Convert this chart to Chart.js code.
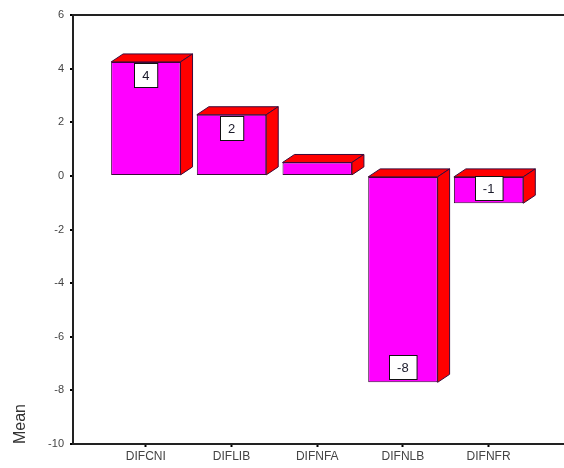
<!DOCTYPE html>
<html>
<head>
<meta charset="utf-8">
<script src="https://cdn.jsdelivr.net/npm/chart.js@4/dist/chart.umd.min.js"></script>
<style>
  html, body { margin: 0; padding: 0; background: #fff; }
</style>
</head>
<body>
<canvas id="c" width="564" height="468"></canvas>
<script>
// Mean difference per variable
const categories = ['DIFCNI', 'DIFLIB', 'DIFNFA', 'DIFNLB', 'DIFNFR'];
const meanValues = [4.25, 2.28, 0.5, -7.7, -1.02];
const yTicks = [6, 4, 2, 0, -2, -4, -6, -8, -10];

const FRONT = '#ff00ff';
const SIDE = '#ff0000';
const EDGE = '#3a0a3a';
const DEPTH_X = 12;
const DEPTH_Y = -8;
const FONT = '"Liberation Sans", Arial, sans-serif';

// Draws the extruded top and right faces behind each bar
const bar3d = {
  id: 'bar3d',
  beforeDatasetsDraw(chart) {
    const ctx = chart.ctx;
    chart.getDatasetMeta(0).data.forEach(bar => {
      const { x, y, base, width } = bar.getProps(['x', 'y', 'base', 'width'], true);
      const l = x - width / 2, r = x + width / 2;
      const top = Math.min(y, base), bot = Math.max(y, base);
      ctx.save();
      ctx.fillStyle = SIDE;
      ctx.strokeStyle = EDGE;
      ctx.lineWidth = 1;
      ctx.beginPath();
      ctx.moveTo(l, top);
      ctx.lineTo(l + DEPTH_X, top + DEPTH_Y);
      ctx.lineTo(r + DEPTH_X, top + DEPTH_Y);
      ctx.lineTo(r, top);
      ctx.closePath();
      ctx.fill(); ctx.stroke();
      ctx.beginPath();
      ctx.moveTo(r, top);
      ctx.lineTo(r + DEPTH_X, top + DEPTH_Y);
      ctx.lineTo(r + DEPTH_X, bot + DEPTH_Y);
      ctx.lineTo(r, bot);
      ctx.closePath();
      ctx.fill(); ctx.stroke();
      ctx.restore();
    });
  }
};

// Boxed value labels inside the bars
const valueBoxes = {
  id: 'valueBoxes',
  afterDatasetsDraw(chart) {
    const ctx = chart.ctx;
    const values = chart.data.datasets[0].data;
    chart.getDatasetMeta(0).data.forEach((bar, i) => {
      const v = values[i].y;
      const { x, y, base } = bar.getProps(['x', 'y', 'base'], true);
      const top = Math.min(y, base), bot = Math.max(y, base);
      const text = String(Math.round(v));
      const h = 24;
      if (bot - top < h) return;
      ctx.save();
      ctx.font = '13px ' + FONT;
      const w = Math.max(23, ctx.measureText(text).width + 16);
      const by = Math.round(v >= 0 ? top + 1 : bot - h - 3);
      const bx = Math.round(x - w / 2) + 0.5;
      ctx.fillStyle = '#fff';
      ctx.fillRect(bx, by, w, h);
      ctx.strokeStyle = '#111';
      ctx.lineWidth = 1;
      ctx.strokeRect(bx, by + 0.5, w, h);
      ctx.fillStyle = '#1a1a2a';
      ctx.textAlign = 'center';
      ctx.textBaseline = 'middle';
      ctx.fillText(text, x, by + h / 2 + 1);
      ctx.restore();
    });
  }
};

new Chart(document.getElementById('c'), {
  type: 'bar',
  data: {
    datasets: [{
      data: meanValues.map((v, i) => ({ x: i, y: v })),
      backgroundColor: FRONT,
      borderColor: EDGE,
      borderWidth: 1,
      borderSkipped: false,
      barPercentage: 0.9,
      categoryPercentage: 0.9
    }]
  },
  options: {
    responsive: false,
    animation: false,
    layout: { padding: { top: 15, right: 0, bottom: 0, left: 0 } },
    plugins: { legend: { display: false }, tooltip: { enabled: false } },
    scales: {
      x: {
        type: 'linear',
        offset: false,
        min: -0.85,
        max: 4.88,
        afterBuildTicks: s => { s.ticks = categories.map((_, i) => ({ value: i })); },
        afterFit: s => { s.height = 24; },
        grid: { offset: false, drawOnChartArea: false, tickColor: '#000', tickLength: 3, tickWidth: 2 },
        border: { color: '#222', width: 2 },
        ticks: {
          autoSkip: false, maxRotation: 0, padding: 2,
          color: '#444',
          font: { size: 12, family: FONT },
          callback: v => categories[v]
        }
      },
      y: {
        min: -10,
        max: 6,
        afterBuildTicks: s => { s.ticks = yTicks.map(v => ({ value: v })); },
        afterFit: s => { s.width = 73; },
        grid: {
          drawOnChartArea: true,
          color: c => (c.tick && c.tick.value === 6 ? '#222' : 'rgba(0,0,0,0)'),
          lineWidth: 2,
          tickColor: '#000', tickLength: 3, tickWidth: 2
        },
        border: { color: '#222', width: 2 },
        ticks: {
          color: '#444', padding: 6,
          font: { size: 11, family: FONT }
        },
        title: {
          display: true, text: 'Mean', align: 'start', color: '#333',
          font: { size: 16, family: FONT },
          padding: { top: 11, bottom: 4 }
        }
      }
    }
  },
  plugins: [bar3d, valueBoxes]
});
</script>
</body>
</html>
